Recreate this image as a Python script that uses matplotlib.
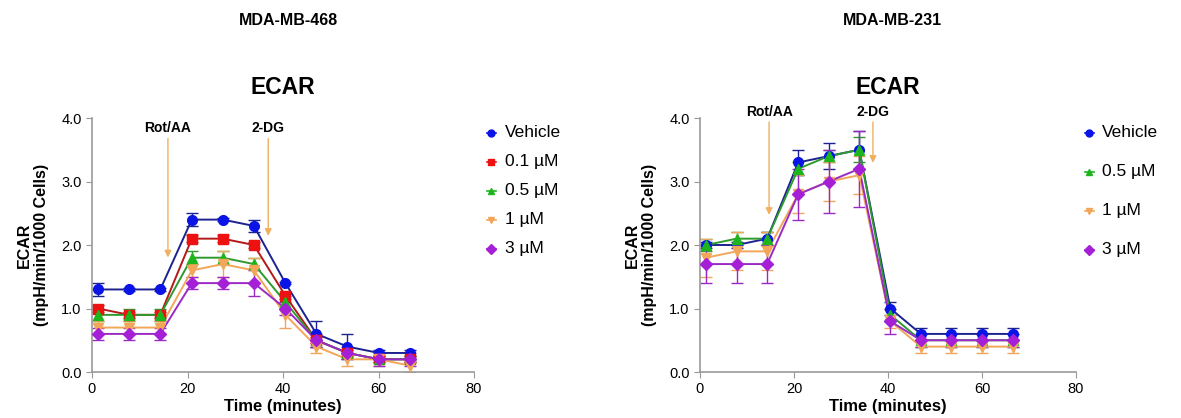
import numpy as np
import matplotlib.pyplot as plt

plt.rcParams['font.family'] = ['Liberation Sans', 'DejaVu Sans']

time = [1.3, 7.8, 14.3, 20.9, 27.4, 33.9, 40.5, 47.0, 53.5, 60.1, 66.6]

# MDA-MB-468
labels_468 = ['Vehicle', '0.1 µM', '0.5 µM', '1 µM', '3 µM']
mean_468 = [
    [1.3, 1.3, 1.3, 2.4, 2.4, 2.3, 1.4, 0.6, 0.4, 0.3, 0.3],
    [1.0, 0.9, 0.9, 2.1, 2.1, 2.0, 1.2, 0.5, 0.3, 0.2, 0.2],
    [0.9, 0.9, 0.9, 1.8, 1.8, 1.7, 1.1, 0.5, 0.3, 0.2, 0.2],
    [0.7, 0.7, 0.7, 1.6, 1.7, 1.6, 0.9, 0.4, 0.2, 0.2, 0.1],
    [0.6, 0.6, 0.6, 1.4, 1.4, 1.4, 1.0, 0.5, 0.3, 0.2, 0.2],
]
err_468 = [
    [0.1, 0.02, 0.02, 0.1, 0.02, 0.1, 0.02, 0.2, 0.2, 0.05, 0.05],
    [0.05, 0.05, 0.05, 0.05, 0.05, 0.05, 0.05, 0.05, 0.05, 0.05, 0.05],
    [0.1, 0.1, 0.1, 0.1, 0.1, 0.1, 0.1, 0.1, 0.05, 0.05, 0.05],
    [0.1, 0.1, 0.1, 0.1, 0.2, 0.2, 0.2, 0.1, 0.1, 0.1, 0.1],
    [0.1, 0.1, 0.1, 0.1, 0.1, 0.2, 0.1, 0.1, 0.1, 0.1, 0.1],
]

# MDA-MB-231
labels_231 = ['Vehicle', '0.5 µM', '1 µM', '3 µM']
mean_231 = [
    [2.0, 2.0, 2.1, 3.3, 3.4, 3.5, 1.0, 0.6, 0.6, 0.6, 0.6],
    [2.0, 2.1, 2.1, 3.2, 3.4, 3.5, 0.9, 0.5, 0.5, 0.5, 0.5],
    [1.8, 1.9, 1.9, 2.8, 3.0, 3.1, 0.8, 0.4, 0.4, 0.4, 0.4],
    [1.7, 1.7, 1.7, 2.8, 3.0, 3.2, 0.8, 0.5, 0.5, 0.5, 0.5],
]
err_231 = [
    [0.05, 0.05, 0.1, 0.2, 0.2, 0.3, 0.1, 0.1, 0.1, 0.1, 0.1],
    [0.1, 0.1, 0.1, 0.1, 0.1, 0.2, 0.1, 0.1, 0.1, 0.1, 0.1],
    [0.3, 0.3, 0.3, 0.3, 0.3, 0.3, 0.1, 0.1, 0.1, 0.1, 0.1],
    [0.3, 0.3, 0.3, 0.4, 0.5, 0.6, 0.2, 0.1, 0.1, 0.1, 0.1],
]

styles = {
    'Vehicle': ('o', '#0a14e6', '#1c2390'),
    '0.1 µM': ('s', '#ee1111', '#b41818'),
    '0.5 µM': ('^', '#1db51d', '#2e9a2e'),
    '1 µM': ('v', '#f2a65a', '#f2a65a'),
    '3 µM': ('D', '#a41fd6', '#9a2ac4'),
}

# arrow x position, arrow tip y, label y
arrows_468 = [('Rot/AA', 15.9, 1.76, 3.85), ('2-DG', 36.9, 2.1, 3.85)]
arrows_231 = [('Rot/AA', 14.7, 2.43, 4.09), ('2-DG', 36.8, 3.25, 4.09)]

fig = plt.figure(figsize=(11.81, 4.18), dpi=100)
ax1 = fig.add_axes([0.0779, 0.110, 0.3235, 0.6077])
ax2 = fig.add_axes([0.5927, 0.110, 0.3184, 0.6077])


def draw_panel(ax, labels, means, errs, arrows, leg_y, leg_gap, leg_x):
    for lab, m, e in zip(labels, means, errs):
        mk, mc, lc = styles[lab]
        ms = 6 if mk == 'D' else 7
        ax.errorbar(time, m, yerr=e, color=lc, lw=1.4, capsize=4,
                    elinewidth=1.0, capthick=1.0, zorder=2)
        ax.plot(time, m, ls='none', marker=mk, ms=ms, color=mc, zorder=3)
    for txt, x, tip, ly in arrows:
        ax.annotate('', xy=(x, tip), xytext=(x, 3.72 if ly < 4 else 3.98),
                    arrowprops=dict(arrowstyle='-|>', color='#f0b060', lw=1.0,
                                    mutation_scale=10), annotation_clip=False)
        ax.text(x, ly, txt, ha='center', va='center', fontsize=10,
                fontweight='bold', clip_on=False)
    ax.set_xlim(0, 80)
    ax.set_ylim(0, 4.0)
    ax.set_xticks([0, 20, 40, 60, 80])
    ax.set_yticks([0, 1, 2, 3, 4])
    ax.set_yticklabels(['0.0', '1.0', '2.0', '3.0', '4.0'])
    ax.tick_params(labelsize=10.5, color='#999999', length=4)
    for s in ['top', 'right']:
        ax.spines[s].set_visible(False)
    for s in ['left', 'bottom']:
        ax.spines[s].set_color('#999999')
        ax.spines[s].set_linewidth(1.2)
    ax.set_xlabel('Time (minutes)', fontsize=12, fontweight='bold', labelpad=2)
    ax.set_ylabel('ECAR\n(mpH/min/1000 Cells)', fontsize=11.5,
                  fontweight='bold', labelpad=9, linespacing=1.15)
    ax.set_title('ECAR', fontsize=16.5, fontweight='bold', pad=17)
    # legend drawn as marker + text beside the axes
    for i, lab in enumerate(labels):
        mk, mc, lc = styles[lab]
        y = leg_y - i * leg_gap
        ax.plot([leg_x], [y], marker=mk, ms=5, color=mc, transform=ax.transAxes,
                clip_on=False)
        ax.plot([leg_x - 0.012, leg_x + 0.012], [y, y], lw=1.2, color=mc,
                transform=ax.transAxes, clip_on=False)
        ax.text(leg_x + 0.035, y, lab, transform=ax.transAxes, fontsize=12.5,
                va='center', ha='left')


draw_panel(ax1, labels_468, mean_468, err_468, arrows_468, 0.941, 0.114, 1.045)
draw_panel(ax2, labels_231, mean_231, err_231, arrows_231, 0.941, 0.153, 1.035)

fig.text(0.244, 0.952, 'MDA-MB-468', ha='center', va='center', fontsize=11.5,
         fontweight='bold')
fig.text(0.756, 0.952, 'MDA-MB-231', ha='center', va='center', fontsize=11.5,
         fontweight='bold')

fig.savefig('out.png', dpi=100)
